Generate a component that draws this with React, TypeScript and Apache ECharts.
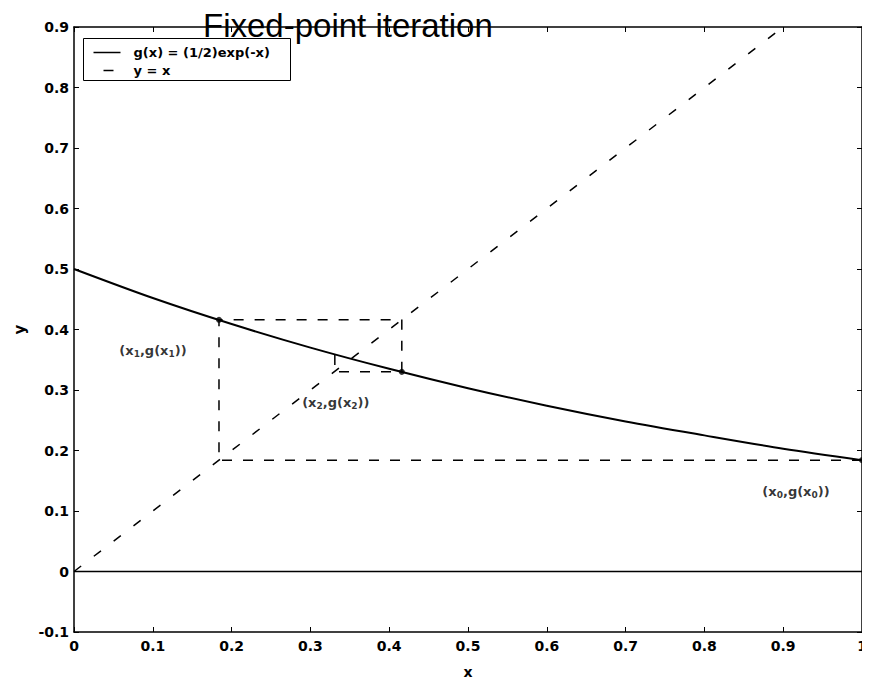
import React, { useEffect, useRef } from 'react';
import * as echarts from 'echarts';

const titleText = 'Fixed-point iteration';
const legendNames = ['g(x) = (1/2)exp(-x)', 'y = x'];

// g(x) curve
const curveX = [0, 0.1, 0.2, 0.3, 0.4, 0.5, 0.6, 0.7, 0.8, 0.9, 1.0];
const curveY = [0.5, 0.452, 0.409, 0.37, 0.335, 0.303, 0.274, 0.248, 0.225, 0.203, 0.184];

// y = x line
const identityX = [0, 0.9];
const identityY = [0, 0.9];

// y = 0 line
const zeroX = [0, 1];
const zeroY = [0, 0];

// cobweb path
const cobwebX = [1, 0.184, 0.184, 0.416, 0.416, 0.331, 0.331];
const cobwebY = [0.184, 0.184, 0.416, 0.416, 0.33, 0.33, 0.359];

// iterates
const iterX = [1, 0.184, 0.416];
const iterY = [0.184, 0.416, 0.33];
const iterSub = ['0', '1', '2'];

const FONT = 'DejaVu Sans';

function fmt(v: number): string {
  const r = Math.round(v * 10) / 10;
  if (Math.abs(r) < 1e-9) return '0';
  return String(r);
}

function axisCommon(pos: string, showLabel: boolean, isX: boolean) {
  return {
    type: 'value',
    position: pos,
    min: isX ? 0 : -0.1,
    max: isX ? 1 : 0.9,
    interval: 0.1,
    splitLine: { show: false },
    axisLine: { show: true, onZero: false, lineStyle: { color: '#000', width: 1.5 } },
    axisTick: { show: true, inside: true, length: 5, lineStyle: { color: '#000', width: 1 } },
    axisLabel: {
      show: showLabel,
      color: '#000',
      fontFamily: FONT,
      fontWeight: 'bold',
      fontSize: 14,
      margin: isX ? 7 : 5,
      formatter: fmt,
    },
  };
}

export default function App() {
  const ref = useRef<HTMLDivElement>(null);
  useEffect(() => {
    if (!ref.current) return;
    const chart = echarts.init(ref.current, null, { renderer: 'svg' });
    const zip = (xs: number[], ys: number[]) => xs.map((x, i) => [x, ys[i]]);
    const legendFont = { fontFamily: FONT, fontWeight: 'bold', fontSize: 13, fill: '#000' };
    chart.setOption({
      animation: false,
      backgroundColor: '#fff',
      title: {
        text: titleText,
        left: 203,
        top: 9,
        padding: 0,
        textStyle: { fontFamily: 'Liberation Sans', fontWeight: 'normal', fontSize: 33, color: '#000' },
      },
      grid: { left: 74, right: 8, top: 27, bottom: 35, containLabel: false },
      graphic: [
        {
          type: 'group',
          left: 83,
          top: 38,
          z: 10,
          children: [
            { type: 'rect', shape: { x: 0, y: 0, width: 207, height: 42 }, style: { fill: '#fff', stroke: '#000', lineWidth: 1 } },
            { type: 'line', shape: { x1: 10, y1: 14, x2: 37, y2: 14 }, style: { stroke: '#000', lineWidth: 1.5 } },
            { type: 'line', shape: { x1: 20, y1: 32, x2: 30, y2: 32 }, style: { stroke: '#000', lineWidth: 1.5 } },
            { type: 'text', x: 50, y: 14, style: { text: legendNames[0], ...legendFont, verticalAlign: 'middle' } },
            { type: 'text', x: 50, y: 32, style: { text: legendNames[1], ...legendFont, verticalAlign: 'middle' } },
          ],
        },
      ],
      xAxis: [
        {
          ...axisCommon('bottom', true, true),
          name: 'x',
          nameLocation: 'middle',
          nameGap: 33,
          nameTextStyle: { fontFamily: FONT, fontWeight: 'bold', fontSize: 14, color: '#000' },
        },
        axisCommon('top', false, true),
      ],
      yAxis: [
        {
          ...axisCommon('left', true, false),
          name: 'y',
          nameLocation: 'middle',
          nameGap: 40,
          nameRotate: 90,
          nameTextStyle: { fontFamily: FONT, fontWeight: 'bold', fontSize: 15, color: '#000' },
        },
        axisCommon('right', false, false),
      ],
      series: [
        {
          name: legendNames[0],
          type: 'line',
          data: zip(curveX, curveY),
          smooth: 0.3,
          symbol: 'none',
          itemStyle: { color: '#000' },
          lineStyle: { color: '#000', width: 2 },
          z: 3,
        },
        {
          name: legendNames[1],
          type: 'line',
          data: zip(identityX, identityY),
          symbol: 'none',
          itemStyle: { color: '#000' },
          lineStyle: { color: '#000', width: 1.5, type: [9, 16] },
          z: 2,
        },
        {
          name: 'zero',
          type: 'line',
          data: zip(zeroX, zeroY),
          symbol: 'none',
          itemStyle: { color: '#000' },
          lineStyle: { color: '#000', width: 1.5 },
          z: 2,
        },
        {
          name: 'cobweb',
          type: 'line',
          data: zip(cobwebX, cobwebY),
          symbol: 'none',
          itemStyle: { color: '#000' },
          lineStyle: { color: '#000', width: 1.5, type: [10, 11] },
          z: 2,
        },
        {
          name: 'iterates',
          type: 'scatter',
          data: iterX.map((x, i) => [x, iterY[i]]),
          symbol: 'circle',
          symbolSize: 6,
          itemStyle: { color: '#000' },
          z: 4,
          label: {
            show: true,
            position: 'inside',
            offset: [-66, 31],
            formatter: (p: any) => {
              const s = iterSub[p.dataIndex];
              return `{a|(x}{s|${s}}{a|,g(x}{s|${s}}{a|))}`;
            },
            rich: {
              a: { fontFamily: FONT, fontWeight: 'bold', fontSize: 13, color: '#000', lineHeight: 16, verticalAlign: 'middle' },
              s: { fontFamily: FONT, fontWeight: 'bold', fontSize: 9, color: '#000', lineHeight: 16, verticalAlign: 'bottom', padding: [11, 0, 0, 0] },
            },
          },
        },
      ],
    });
    return () => chart.dispose();
  }, []);
  return <div ref={ref} style={{ width: 870, height: 684, marginLeft: -8, marginTop: -8 }} />;
}
